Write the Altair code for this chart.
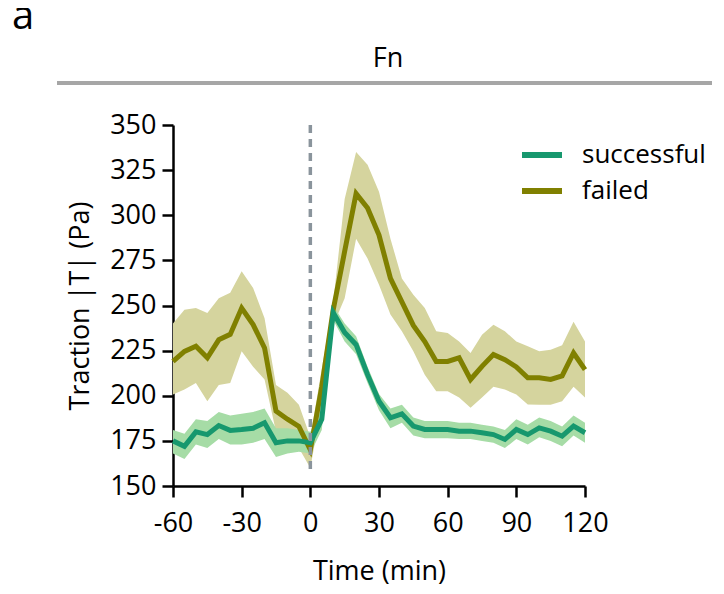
import altair as alt
import pandas as pd

time = [-60, -55, -50, -45, -40, -35, -30, -25, -20, -15, -10, -5, 0, 5, 10, 15, 20, 25, 30,
        35, 40, 45, 50, 55, 60, 65, 70, 75, 80, 85, 90, 95, 100, 105, 110, 115, 120]

succ_mean = [175, 172, 180, 178.5, 183.5, 180.8, 181.3, 182, 185, 174, 175, 175, 174, 187, 246,
             235, 228.3, 211.7, 197, 187.8, 190, 183.2, 181.3, 181.3, 181.3, 180.4, 180.4, 179.5,
             178.5, 175.8, 181.3, 178.5, 182.2, 180.4, 177.6, 183.2, 179.5]
succ_hi = [181, 179, 187, 186, 191, 189, 190, 191, 193, 182, 182, 181, 180, 193, 250, 240, 233,
           216, 201, 193, 195, 188, 186, 186, 186, 185, 185, 184, 183, 181, 187, 184, 188, 186,
           183, 189, 185]
succ_lo = [168, 165, 173, 171, 176, 173, 173, 174, 176, 166, 168, 169, 168, 181, 242, 230, 223,
           207, 192, 182, 185, 178, 176.5, 176.5, 176.5, 176, 176, 175, 174, 171, 176, 173, 177,
           175, 172, 178, 174]

fail_mean = [219, 224.6, 227.4, 221, 231, 234, 248.6, 239.4, 226.5, 191.5, 187, 183, 170, 205,
             247.7, 280, 312, 304, 289, 265, 252, 239, 230, 219, 219, 221, 209, 216.3, 222.8, 220,
             216, 210, 210, 209, 211, 223.7, 214.5]
fail_hi = [240, 247.7, 248.6, 245.8, 254, 257, 269, 259.7, 243, 206, 201.6, 195, 177, 215, 252,
           309, 335, 328, 313, 287, 265, 256, 248.6, 235.7, 234.8, 230, 223.7, 233.8, 239.4,
           235.7, 230, 227.4, 224.6, 225.5, 228, 241, 230]
fail_lo = [200.7, 203.4, 207, 197, 206, 207, 224.6, 216, 209, 180, 175, 171, 160, 195, 239, 254,
           287, 276, 261.5, 245, 235.7, 224.6, 211.7, 202.5, 202.5, 199, 193.3, 199, 205, 203.4,
           200.7, 195.1, 195, 195, 197, 205, 199]

groups = ["successful", "failed"]
line_colors = ["#17986e", "#808000"]
band_colors = ["#a6dca6", "#d5d49e"]

y_ticks = [150, 175, 200, 225, 250, 275, 300, 325, 350]
x_ticks = [-60, -30, 0, 30, 60, 90, 120]

marker = pd.DataFrame({"t": [0], "top": [350], "bottom": [157]})

df = pd.DataFrame({
    "time": time * 2,
    "group": ["successful"] * len(time) + ["failed"] * len(time),
    "mean": succ_mean + fail_mean,
    "hi": succ_hi + fail_hi,
    "lo": succ_lo + fail_lo,
})

FONT = "Open Sans"

xenc = alt.X("time:Q", scale=alt.Scale(domain=[-60, 120], nice=False),
             axis=alt.Axis(values=x_ticks, title="Time (min)", labelExpr="'' + datum.value",
                           labelFlush=False, labelOverlap=False))
yscale = alt.Scale(domain=[150, 350], nice=False)

base = alt.Chart(df)


def band(g, c):
    return base.transform_filter(alt.datum.group == g).mark_area(color=c, opacity=1).encode(
        x=xenc,
        y=alt.Y("lo:Q", scale=yscale,
                axis=alt.Axis(values=y_ticks, title="Traction |T| (Pa)",
                              labelFlush=False, labelOverlap=False)),
        y2="hi:Q",
    )


color = alt.Color("group:N", scale=alt.Scale(domain=groups, range=line_colors),
                  legend=alt.Legend(title=None, orient="none", legendX=346, legendY=7,
                                    symbolType="stroke", symbolSize=1600,
                                    symbolStrokeWidth=6, labelFontSize=26, labelFont=FONT,
                                    labelColor="black", rowPadding=-2, labelOffset=17,
                                    symbolOffset=0, labelLimit=300, padding=0))


def line(g):
    return base.transform_filter(alt.datum.group == g).mark_line(strokeWidth=5).encode(
        x=xenc, y=alt.Y("mean:Q", scale=yscale), color=color)


rule = alt.Chart(marker).mark_rule(color="#8a949c", strokeWidth=3.5, strokeDash=[8, 6]).encode(
    x="t:Q", y="top:Q", y2="bottom:Q")

header_line = alt.Chart(marker).mark_rule(color="#a6a6a6", strokeWidth=4).encode(
    x=alt.value(-116), x2=alt.value(539), y=alt.value(-42))
header_text = alt.Chart(marker).mark_text(text="Fn", font=FONT, fontSize=27, align="center",
                                           baseline="alphabetic", color="black").encode(
    x=alt.value(215), y=alt.value(-58))
panel_letter = alt.Chart(marker).mark_text(text="a", font=FONT, fontSize=40, align="center",
                                            baseline="alphabetic", color="black").encode(
    x=alt.value(-150), y=alt.value(-96))

chart = alt.layer(
    band("failed", band_colors[1]),
    band("successful", band_colors[0]),
    line("failed"),
    line("successful"),
    rule,
    header_line,
    header_text,
    panel_letter,
).properties(
    width=412, height=361,
    autosize=alt.AutoSizeParams(type="none"),
    padding={"left": 165, "top": 117, "right": 131, "bottom": 100},
).configure_view(stroke=None).configure_axis(
    grid=False, domainColor="black", domainWidth=2.5, tickColor="black", tickWidth=2.5,
    tickSize=11, labelFont=FONT, labelFontSize=27, labelColor="black", titleFont=FONT,
    titleFontSize=27, titleColor="black", titleFontWeight="normal", labelPadding=6,
).configure_axisX(titlePadding=22, labelPadding=13).configure_axisY(titlePadding=15)

chart.save("out.html", embed_options={"renderer": "svg", "actions": False})
